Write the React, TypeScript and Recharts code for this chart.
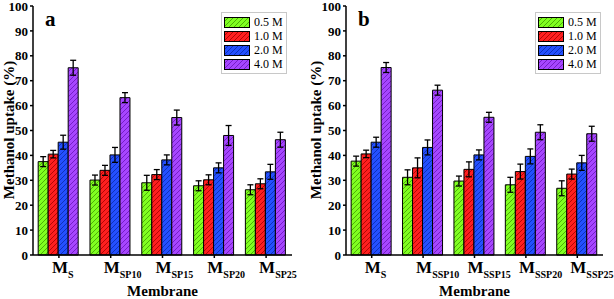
import { BarChart, Bar, XAxis, YAxis, ErrorBar } from 'recharts';

const membranesA = ['S', 'SP10', 'SP15', 'SP20', 'SP25'];
const membranesB = ['S', 'SSP10', 'SSP15', 'SSP20', 'SSP25'];

const concentrations = ['0.5 M', '1.0 M', '2.0 M', '4.0 M'];
const fills = ['#80ff20', '#ff1f1f', '#2450ff', '#a646ff'];
const hatches = ['#3f9a00', '#a00000', '#0a2aa8', '#6a14b8'];

// panel a values (%), per concentration
const a05 = [37.5, 30.1, 29.0, 27.8, 26.2];
const a10 = [40.5, 34.0, 32.3, 30.2, 28.6];
const a20 = [45.3, 40.2, 38.2, 35.0, 33.4];
const a40 = [75.2, 63.2, 55.2, 48.0, 46.3];
const a05Err = [2.0, 2.0, 3.0, 2.0, 2.0];
const a10Err = [1.5, 2.0, 2.0, 2.0, 2.0];
const a20Err = [2.8, 3.0, 2.0, 2.0, 3.0];
const a40Err = [3.0, 2.0, 3.0, 4.0, 3.0];

// panel b values (%)
const b05 = [37.7, 31.2, 29.7, 28.2, 26.8];
const b10 = [40.6, 35.0, 34.4, 33.5, 32.5];
const b20 = [45.3, 43.2, 40.2, 39.6, 37.0];
const b40 = [75.3, 66.2, 55.3, 49.3, 48.7];
const b05Err = [2.0, 3.0, 2.0, 3.0, 3.0];
const b10Err = [1.5, 4.0, 3.0, 3.0, 2.0];
const b20Err = [2.0, 3.0, 2.0, 3.0, 3.0];
const b40Err = [2.0, 2.0, 2.0, 3.0, 3.0];

const yTicks = [0, 10, 20, 30, 40, 50, 60, 70, 80, 90, 100];

const font = '"Liberation Serif", "Times New Roman", serif';
const keys = ['c05', 'c10', 'c20', 'c40'];

function buildRows(names: string[], vals: number[][], errs: number[][]) {
  return names.map((n, i) => {
    const row: any = { name: n };
    keys.forEach((k, j) => {
      row[k] = vals[j][i];
      row[k + 'e'] = errs[j][i];
    });
    return row;
  });
}

const dataA = buildRows(membranesA, [a05, a10, a20, a40], [a05Err, a10Err, a20Err, a40Err]);
const dataB = buildRows(membranesB, [b05, b10, b20, b40], [b05Err, b10Err, b20Err, b40Err]);

const MembraneTick = (props: any) => {
  const { x, y, payload } = props;
  return (
    <text x={x - 7} y={y + 13} fontFamily={font} fontWeight="bold" fill="#000">
      <tspan fontSize={17}>M</tspan>
      <tspan fontSize={10} dy={5}>{payload.value}</tspan>
    </text>
  );
};

function Swatch({ i }: { i: number }) {
  return (
    <svg width={26} height={11} style={{ display: 'block' }}>
      <rect x={0.5} y={0.5} width={25} height={10} fill={`url(#hatch${i})`} stroke="#000" strokeWidth={1} />
    </svg>
  );
}

function Panel({ data, letter, plotLeft, right, legendLeft }: any) {
  const width = 307;
  return (
    <div style={{ position: 'relative', width, height: 299 }}>
      <BarChart
        width={width}
        height={299}
        data={data}
        margin={{ top: 6, right, bottom: 14, left: 0 }}
        barCategoryGap="10%"
        barGap={0}
      >
        <XAxis
          dataKey="name"
          height={30}
          tick={<MembraneTick />}
          tickSize={3}
          interval={0}
          stroke="#000"
          strokeWidth={1.5}
          label={{
            content: () => (
              <text
                x={plotLeft + (width - right - plotLeft) / 2}
                y={296}
                textAnchor="middle"
                fontFamily={font}
                fontWeight="bold"
                fontSize={15}
                fill="#000"
              >
                Membrane
              </text>
            ),
          }}
        />
        <XAxis xAxisId="top" dataKey="name" orientation="top" height={0} tick={false} tickLine={false} stroke="#000" strokeWidth={1.5} />
        <YAxis
          width={plotLeft}
          domain={[0, 100]}
          ticks={yTicks}
          interval={0}
          tickSize={3}
          stroke="#000"
          strokeWidth={1.5}
          tick={{ fill: '#000', fontFamily: font, fontWeight: 'bold', fontSize: 13 }}
          label={{
            content: () => (
              <text
                x={9}
                y={130}
                transform="rotate(-90 9 130)"
                textAnchor="middle"
                dominantBaseline="central"
                fontFamily={font}
                fontWeight="bold"
                fontSize={15}
                fill="#000"
              >
                Methanol uptake (%)
              </text>
            ),
          }}
        />
        <YAxis yAxisId="right" orientation="right" width={0} domain={[0, 100]} tick={false} tickLine={false} stroke="#000" strokeWidth={1.5} />
        {keys.map((k, i) => (
          <Bar key={k} dataKey={k} name={concentrations[i]} fill={`url(#hatch${i})`} stroke="#000" strokeWidth={1} isAnimationActive={false}>
            <ErrorBar dataKey={k + 'e'} width={3} stroke="#000" strokeWidth={1.3} direction="y" />
          </Bar>
        ))}
      </BarChart>
      <div
        style={{
          position: 'absolute',
          left: plotLeft + 12,
          top: 9,
          fontFamily: font,
          fontWeight: 'bold',
          fontSize: 21,
          lineHeight: '21px',
        }}
      >
        {letter}
      </div>
      <div
        style={{
          position: 'absolute',
          left: legendLeft,
          top: 12,
          border: '1px solid #c8c8c8',
          padding: '2px 3px 2px 2px',
          fontFamily: font,
          fontSize: 12,
          background: '#fff',
        }}
      >
        {concentrations.map((c, i) => (
          <div key={c} style={{ display: 'flex', alignItems: 'center', height: 14 }}>
            <Swatch i={i} />
            <span style={{ marginLeft: 4 }}>{c}</span>
          </div>
        ))}
      </div>
    </div>
  );
}

export default function App() {
  return (
    <div style={{ position: 'absolute', left: 0, top: 0, width: 614, height: 299, background: '#fff' }}>
      <svg width={0} height={0} style={{ position: 'absolute' }}>
        <defs>
          {fills.map((f, i) => (
            <pattern key={i} id={`hatch${i}`} patternUnits="userSpaceOnUse" width={5} height={5}>
              <rect width={5} height={5} fill={f} />
              <path d="M0,5 L5,0 M-1,1 L1,-1 M4,6 L6,4" stroke={hatches[i]} strokeWidth={0.8} />
            </pattern>
          ))}
        </defs>
      </svg>
      <div style={{ display: 'flex' }}>
        <Panel data={dataA} letter="a" plotLeft={33} right={15} legendLeft={221} />
        <Panel data={dataB} letter="b" plotLeft={39} right={11} legendLeft={228} />
      </div>
    </div>
  );
}
